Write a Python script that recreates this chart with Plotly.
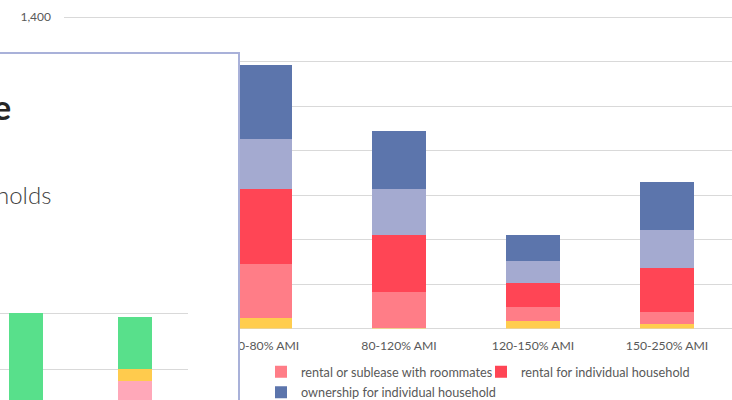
import plotly.graph_objects as go

W, H = 732, 400


def fx(px):
    return px / W


def fy(py):
    return 1 - py / H


# ---------------- main (background) chart data ----------------
categories = ["0-50% AMI", "50-80% AMI", "80-120% AMI", "120-150% AMI", "150-250% AMI"]
family = [None, 47, 4, 35, 20]
roommates = [None, 241, 162, 60, 54]
individual_rental = [None, 337, 253, 111, 196]
shared_ownership = [None, 225, 208, 96, 172]
individual_ownership = [None, 333, 261, 120, 217]

# y tick values; only the top label is not hidden behind the overlapping panel
y_tickvals = [0, 200, 400, 600, 800, 1000, 1200, 1400]
y_ticktext = ["", "", "", "", "", "", "", "1,400"]

series_names = [
    "living with family",
    "rental or sublease with roommates",
    "rental for individual household",
    "shared or community ownership",
    "ownership for individual household",
]
series_values = [family, roommates, individual_rental, shared_ownership, individual_ownership]
series_colors = ["#FFCD4E", "#FF7D87", "#FF4555", "#A4AAD0", "#5C75AC"]
series_legend = [None, "legend", "legend", None, "legend2"]

# ---------------- inner (overlay) chart data ----------------
inner_categories = [0, 1]
inner_pink = [None, 55.8]
inner_yellow = [None, 4.2]
inner_green = [80.3, 18.9]

FONT = "Lato, Carlito, Calibri, sans-serif"
GREY = "#595959"
GRID = "#D9D9D9"

# main plot area: y=0 at px 328.5, 1400 at px 17 ; a little headroom so the 1,400 gridline shows
Y_TOP = 1410
PX_PER_UNIT = (328.5 - 17) / 1400
top_px = 328.5 - Y_TOP * PX_PER_UNIT

fig = go.Figure()

for name, vals, col, lg in zip(series_names, series_values, series_colors, series_legend):
    fig.add_trace(go.Bar(
        x=categories, y=vals, name=name, marker=dict(color=col, line=dict(width=0)),
        width=0.4, xaxis="x", yaxis="y",
        showlegend=lg is not None, legend=lg if lg else "legend",
    ))

# empty trace to create the panel subplot
fig.add_trace(go.Scatter(x=[], y=[], xaxis="x2", yaxis="y2", showlegend=False, hoverinfo="skip"))

for vals, col in [(inner_pink, "#FFA8B9"), (inner_yellow, "#FFCB4D"), (inner_green, "#58E08B")]:
    fig.add_trace(go.Bar(
        x=inner_categories, y=vals, marker=dict(color=col, line=dict(width=0)),
        width=0.31, xaxis="x3", yaxis="y3", showlegend=False,
    ))

fig.update_layout(
    width=W, height=H,
    margin=dict(l=0, r=0, t=0, b=0, autoexpand=False),
    paper_bgcolor="white", plot_bgcolor="rgba(0,0,0,0)",
    barmode="stack",
    font=dict(family=FONT, size=12, color=GREY),
    xaxis=dict(domain=[fx(64), 1], range=[-0.5, 4.485], type="category",
               showgrid=False, zeroline=False, showline=False, ticks="", ticklabelstandoff=8,
               tickfont=dict(family=FONT, size=12.2, color=GREY), anchor="y", automargin=False),
    yaxis=dict(domain=[fy(328.5), fy(top_px)], range=[0, Y_TOP],
               tickmode="array", tickvals=y_tickvals, ticktext=y_ticktext,
               gridcolor=GRID, gridwidth=1, zeroline=True, zerolinecolor=GRID, zerolinewidth=1,
               showline=False, ticks="", ticklabelstandoff=12, automargin=False,
               tickfont=dict(family=FONT, size=12, color=GREY), anchor="x"),
    xaxis2=dict(domain=[0, fx(241)], range=[0, 241], visible=False, anchor="y2"),
    yaxis2=dict(domain=[0, fy(51)], range=[0, 349], visible=False, anchor="x2"),
    xaxis3=dict(domain=[0, fx(188)], range=[-0.2415, 1.491], showgrid=False, zeroline=False,
                showline=False, showticklabels=False, ticks="", anchor="y3"),
    yaxis3=dict(domain=[0, fy(258.3)], range=[48.8, 100.05], dtick=20, tick0=0,
                gridcolor=GRID, gridwidth=1, zeroline=False, showline=False,
                showticklabels=False, ticks="", anchor="x3"),
    shapes=[dict(type="rect", xref="x2", yref="y2", x0=-10, x1=239, y0=-10, y1=347,
                 layer="below", fillcolor="white", line=dict(color="#A9B1D9", width=2))],
    legend=dict(orientation="h", x=fx(261), y=fy(357), xanchor="left", yanchor="top",
                entrywidth=175, traceorder="normal", bgcolor="rgba(0,0,0,0)",
                font=dict(family=FONT, size=12.7, color=GREY)),
    legend2=dict(orientation="h", x=fx(261), y=fy(377.5), xanchor="left", yanchor="top",
                 traceorder="normal", bgcolor="rgba(0,0,0,0)",
                 font=dict(family=FONT, size=12.7, color=GREY)),
    annotations=[
        dict(text="<b>Housing Type</b>", xref="paper", yref="paper", x=fx(13), y=fy(106),
             xanchor="right", yanchor="middle", showarrow=False,
             font=dict(family=FONT, size=34, color="#262626")),
        dict(text="Households", xref="paper", yref="paper", x=fx(53), y=fy(194),
             xanchor="right", yanchor="middle", showarrow=False,
             font=dict(family="Lato Light, Lato, sans-serif", size=24, color="#404040")),
    ],
)

fig.write_html("out.html")
